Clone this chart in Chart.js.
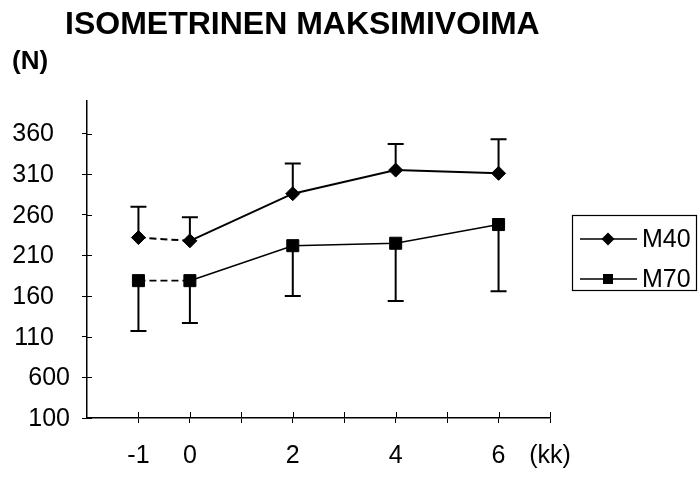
<!DOCTYPE html>
<html>
<head>
<meta charset="utf-8">
<title>Isometrinen maksimivoima</title>
<script src="https://cdn.jsdelivr.net/npm/chart.js@4.4.1/dist/chart.umd.min.js"></script>
<style>
  html, body { margin: 0; padding: 0; background: #fff; }
  #wrap { width: 698px; height: 477px; }
</style>
</head>
<body>
<div id="wrap"><canvas id="c" width="698" height="477"></canvas></div>
<script>
// Measurement months (kk) and mean force (N) per group
const months = [-1, 0, 2, 4, 6];
const m40 = [232, 228, 286, 315, 311];
const m40Upper = [270, 257, 323, 347, 353];   // top of the M40 error bars
const m70 = [179, 179, 222, 225, 248];
const m70Lower = [117, 127, 160, 154, 166];   // bottom of the M70 error bars

// Axis ticks and the labels printed at them
const yTickValues = [10, 60, 110, 160, 210, 260, 310, 360];
const yTickLabels = ['100', '600', '110', '160', '210', '260', '310', '360'];
const xTickValues = [-1, 0, 1, 2, 3, 4, 5, 6, 7];
const xTickLabels = ['-1', '0', '', '2', '', '4', '', '6', '(kk)'];

const titleText = 'ISOMETRINEN MAKSIMIVOIMA';
const unitText = '(N)';
const seriesNames = ['M40', 'M70'];

const FONT = '"Liberation Sans", Arial, Helvetica, sans-serif';
const INK = '#000';

const toPoints = (xs, ys) => xs.map((x, i) => ({ x: x, y: ys[i] }));
const firstDashed = ctx => (ctx.p0DataIndex === 0 ? [7, 4] : undefined);

function drawDiamond(ctx, x, y, r) {
  ctx.beginPath();
  ctx.moveTo(x, y - r);
  ctx.lineTo(x + r, y);
  ctx.lineTo(x, y + r);
  ctx.lineTo(x - r, y);
  ctx.closePath();
  ctx.fill();
}

const decor = {
  id: 'decor',
  beforeDatasetsDraw(chart) {
    const ctx = chart.ctx;
    const xs = chart.scales.x, ys = chart.scales.y;
    const cap = 8;
    ctx.save();
    ctx.strokeStyle = INK;
    ctx.lineWidth = 2;
    const bar = (xv, from, to) => {
      const px = xs.getPixelForValue(xv);
      const p0 = ys.getPixelForValue(from);
      const p1 = ys.getPixelForValue(to);
      ctx.beginPath();
      ctx.moveTo(px, p0);
      ctx.lineTo(px, p1);
      ctx.moveTo(px - cap, p1);
      ctx.lineTo(px + cap, p1);
      ctx.stroke();
    };
    months.forEach((m, i) => {
      bar(m, m40[i], m40Upper[i]);
      bar(m, m70[i], m70Lower[i]);
    });
    ctx.restore();
  },
  afterDraw(chart) {
    const ctx = chart.ctx;
    const xs = chart.scales.x, ys = chart.scales.y;
    const area = chart.chartArea;
    ctx.save();
    ctx.fillStyle = INK;
    ctx.strokeStyle = INK;

    // title and unit
    ctx.textBaseline = 'alphabetic';
    ctx.textAlign = 'left';
    ctx.font = 'bold 32px ' + FONT;
    ctx.fillText(titleText, 65, 34);
    ctx.font = 'bold 26px ' + FONT;
    ctx.fillText(unitText, 12, 69);

    // y tick labels (the two lowest sit further right)
    ctx.font = '25px ' + FONT;
    ctx.textAlign = 'right';
    ctx.textBaseline = 'middle';
    yTickValues.forEach((v, i) => {
      const right = v < 100 ? 70 : 54;
      ctx.fillText(yTickLabels[i], right, ys.getPixelForValue(v) + 1);
    });

    // inner halves of the tick marks
    ctx.lineWidth = 1;
    ctx.beginPath();
    yTickValues.forEach(v => {
      const py = Math.round(ys.getPixelForValue(v)) + 0.5;
      ctx.moveTo(area.left, py);
      ctx.lineTo(area.left + 5, py);
    });
    xTickValues.forEach(v => {
      const px = Math.round(xs.getPixelForValue(v)) + 0.5;
      ctx.moveTo(px, area.bottom);
      ctx.lineTo(px, area.bottom - 6);
    });
    ctx.stroke();

    // legend
    const box = { x: 572.5, y: 215.5, w: 124, h: 75 };
    ctx.lineWidth = 1.2;
    ctx.strokeRect(box.x, box.y, box.w, box.h);
    const rows = [239, 279];
    ctx.font = '25px ' + FONT;
    ctx.textAlign = 'left';
    rows.forEach((ry, i) => {
      ctx.lineWidth = 1.6;
      ctx.beginPath();
      ctx.moveTo(580, ry);
      ctx.lineTo(637, ry);
      ctx.stroke();
      if (i === 0) {
        drawDiamond(ctx, 608, ry, 6.5);
      } else {
        ctx.fillRect(603, ry - 5, 10, 10);
      }
      ctx.fillText(seriesNames[i], 642, ry + 1);
    });
    ctx.restore();
  }
};

new Chart(document.getElementById('c'), {
  type: 'line',
  data: {
    datasets: [
      {
        label: seriesNames[0],
        data: toPoints(months, m40),
        borderColor: INK,
        backgroundColor: INK,
        borderWidth: 2,
        pointStyle: 'rectRot',
        pointRadius: 7,
        pointBorderWidth: 1,
        pointBackgroundColor: INK,
        pointBorderColor: INK,
        segment: { borderDash: firstDashed }
      },
      {
        label: seriesNames[1],
        data: toPoints(months, m70),
        borderColor: INK,
        backgroundColor: INK,
        borderWidth: 1.6,
        pointStyle: 'rect',
        pointRadius: 8.5,
        pointBorderWidth: 1,
        pointBackgroundColor: INK,
        pointBorderColor: INK,
        segment: { borderDash: firstDashed }
      }
    ]
  },
  options: {
    responsive: false,
    devicePixelRatio: 1,
    animation: false,
    layout: { padding: { top: 101, right: 148, left: 0, bottom: 0 } },
    plugins: {
      legend: { display: false },
      tooltip: { enabled: false },
      title: { display: false }
    },
    scales: {
      x: {
        type: 'linear',
        min: -2,
        max: 7,
        afterBuildTicks: s => { s.ticks = xTickValues.map(v => ({ value: v })); },
        afterFit: s => { s.height = 59; },
        ticks: {
          autoSkip: false,
          maxRotation: 0,
          color: INK,
          padding: 18,
          font: { family: FONT, size: 25 },
          callback: v => xTickLabels[xTickValues.indexOf(v)]
        },
        grid: { drawOnChartArea: false, drawTicks: true, tickLength: 5, color: INK, lineWidth: 1 },
        border: { color: INK, width: 1.5 }
      },
      y: {
        type: 'linear',
        min: 10,
        max: 400,
        afterBuildTicks: s => { s.ticks = yTickValues.map(v => ({ value: v })); },
        afterFit: s => { s.width = 87; },
        ticks: { display: false },
        grid: { drawOnChartArea: false, drawTicks: true, tickLength: 5, color: INK, lineWidth: 1 },
        border: { color: INK, width: 1.5 }
      }
    }
  },
  plugins: [decor]
});
</script>
</body>
</html>
